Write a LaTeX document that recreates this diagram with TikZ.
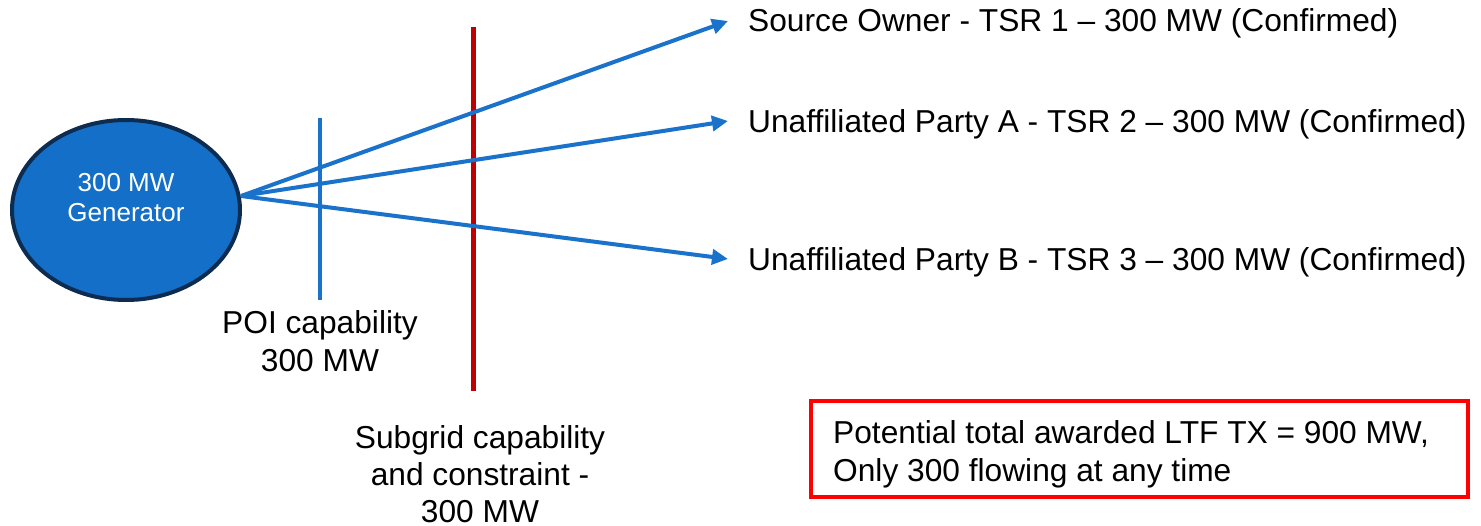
\documentclass[tikz,border=0pt]{standalone}
\usepackage{fontspec}
\setmainfont{Liberation Sans}
\usetikzlibrary{arrows.meta,shapes.geometric}
\definecolor{genfill}{HTML}{136FC7}
\definecolor{genborder}{HTML}{0E2B50}
\definecolor{arrowblue}{HTML}{1A72CA}
\definecolor{darkred}{HTML}{C00000}
\definecolor{boxred}{HTML}{FF0000}
\tikzset{
  lbl/.style={font=\fontsize{31.7}{38}\selectfont, inner sep=0pt, text=black},
  flow/.style={draw=arrowblue, line width=4pt, -{Triangle[length=16pt,width=15pt]}},
  bar/.style={line width=4pt},
}
\begin{document}
\begin{tikzpicture}[x=1pt,y=-1pt]
\useasboundingbox (0,0) rectangle (1481,526);
% generator
\node[ellipse, draw=genborder, line width=4pt, fill=genfill, minimum width=228pt, minimum height=180pt, inner sep=0pt] (gen) at (126,210) {};
\node[text=white, align=center, inner sep=0pt, font=\fontsize{26}{30}\selectfont] (gentext) at ([yshift=12pt]gen.center) {300 MW\\Generator};
\coordinate (src) at (241,196);
% bars
\coordinate (poitop) at (320,118);
\coordinate (poibot) at (320,300);
\draw[bar, draw=arrowblue] (poitop) -- (poibot);
\coordinate (subtop) at (473,27);
\coordinate (subbot) at (473,391);
\draw[line width=5pt, draw=darkred] (subtop) -- (subbot);
% labels
\node[lbl, anchor=west] (l1) at (748,23) {Source Owner - TSR 1 – 300 MW (Confirmed)};
\node[lbl, anchor=west] (l2) at (748,124) {Unaffiliated Party A - TSR 2 – 300 MW (Confirmed)};
\node[lbl, anchor=west] (l3) at (748,262) {Unaffiliated Party B - TSR 3 – 300 MW (Confirmed)};
\coordinate (t1) at (728,21);
\coordinate (t2) at (728,121);
\coordinate (t3) at (728,259);
\draw[flow] (src) -- (t1);
\draw[flow] (src) -- (t2);
\draw[flow] (src) -- (t3);
% bar labels
\node[lbl, align=center, anchor=base] (poi) at (320,372) {POI capability\\300 MW};
\node[lbl, align=center, anchor=base, font=\fontsize{31.7}{37}\selectfont] (sub) at (480,522) {Subgrid capability\\and constraint -\\300 MW};
% note box
\node[draw=boxred, line width=4pt, minimum width=657pt, minimum height=96pt, inner sep=0pt] (note) at (1139.5,449) {};
\node[lbl, align=left, anchor=base west, font=\fontsize{31.7}{38}\selectfont] (notetext) at (833,481)
      {Potential total awarded LTF TX = 900 MW,\\Only 300 flowing at any time};
\end{tikzpicture}
\end{document}
